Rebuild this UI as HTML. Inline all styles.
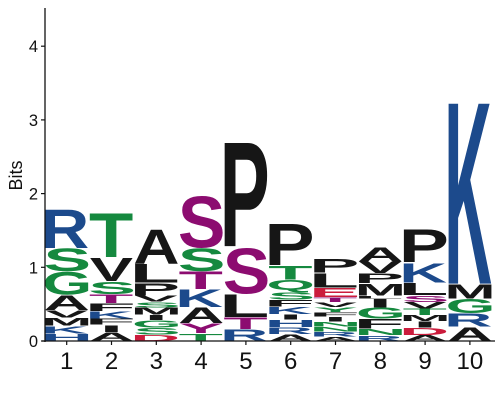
<!DOCTYPE html>
<html lang="en">
<head>
<meta charset="utf-8">
<title>Sequence logo</title>
<style>
html,body{margin:0;padding:0;background:#fff;width:500px;height:400px;overflow:hidden}
svg{display:block}
text{font-family:"Liberation Sans",sans-serif}
</style>
</head>
<body>
<svg id="chart" width="500" height="400" viewBox="0 0 500 400" xmlns="http://www.w3.org/2000/svg"></svg>
<script>
// Letters at each position, bottom to top. Lowercase = modified residue class.
const letters1 = ['H','K','M','V','A','G','S','R'];
const bits1 = [.10,.104,.109,.104,.208,.317,.317,.525];
const letters2 = ['A','I','F','K','F','t','S','V','T'];
const bits2 = [.122,.095,.086,.10,.109,.122,.18,.32,.61];
const letters3 = ['D','S','G','I','M','S','V','P','L','A'];
const bits3 = [.086,.095,.10,.072,.10,.081,.081,.172,.258,.47];
const letters4 = ['T','y','A','K','t','S','s'];
const bits4 = [.104,.136,.217,.244,.24,.317,.71];
const letters5 = ['R','t','L','s','P'];
const bits5 = [.158,.163,.31,.633,1.43];
const letters6 = ['A','R','H','I','K','F','S','Q','T','P'];
const bits6 = [.09,.095,.10,.077,.104,.09,.10,.172,.19,.57];
const letters7 = ['A','R','N','N','I','F','Y','V','t','E','L','P'];
const bits7 = [.059,.068,.068,.068,.068,.059,.068,.068,.068,.131,.20,.19];
const letters8 = ['R','N','F','G','I','L','M','P','V','A'];
const bits8 = [.077,.086,.136,.154,.12,.043,.163,.14,.158,.204];
const letters9 = ['A','D','I','M','T','V','s','L','K','P'];
const bits9 = [.081,.10,.086,.081,.09,.09,.09,.172,.27,.452];
const letters10 = ['A','R','G','M','K'];
const bits10 = [.195,.176,.204,.20,2.49];

const positions = ['1','2','3','4','5','6','7','8','9','10'];
const yTicks = [0,1,2,3,4];
const stackLetters = [letters1,letters2,letters3,letters4,letters5,letters6,letters7,letters8,letters9,letters10];
const stackBits = [bits1,bits2,bits3,bits4,bits5,bits6,bits7,bits8,bits9,bits10];

const NS = 'http://www.w3.org/2000/svg';
const svg = document.getElementById('chart');
const yScale = v => 341 - v * 73.7;
const xScale = i => 66.7 + i * 44.8;
const LETTER_W = 43.5;
const NARROW_W = 14;

const BLUE = '#1c4a8c', GREEN = '#15893f', BLACK = '#161616', MAGENTA = '#8c0c70', RED = '#cb1c3c';
function colorOf(ch) {
  if (ch === 's' || ch === 't' || ch === 'y') return MAGENTA;
  if ('RKH'.includes(ch)) return BLUE;
  if ('DE'.includes(ch)) return RED;
  if ('GSTYCQN'.includes(ch)) return GREEN;
  return BLACK;
}

const ctx = document.createElement('canvas').getContext('2d');
ctx.font = 'bold 100px "Liberation Sans", sans-serif';

function mk(tag, attrs) {
  const e = document.createElementNS(NS, tag);
  for (const k in attrs) e.setAttribute(k, attrs[k]);
  return e;
}

// Stacks
stackLetters.forEach((letters, i) => {
  const group = mk('g', {});
  
  
  let cum = 0;
  letters.forEach((raw, j) => {
    const ch = raw.toUpperCase();
    const h = stackBits[i][j];
    const bottom = yScale(cum) - 0.25;
    const top = yScale(cum + h) + 0.25;
    cum += h;
    const m = ctx.measureText(ch);
    const inkW = m.actualBoundingBoxLeft + m.actualBoundingBoxRight;
    const inkH = m.actualBoundingBoxAscent + m.actualBoundingBoxDescent;
    const w = ch === 'I' ? NARROW_W : LETTER_W;
    const sx = w / inkW;
    const sy = (bottom - top) / inkH;
    const ox = xScale(i) - w / 2 + m.actualBoundingBoxLeft * sx;
    const oy = bottom - m.actualBoundingBoxDescent * sy;
    const t = mk('text', {
      'font-size': 100,
      'font-weight': 'bold',
      fill: colorOf(raw),
      transform: 'translate(' + ox + ' ' + oy + ') scale(' + sx + ' ' + sy + ')'
    });
    
    
    t.textContent = ch;
    group.appendChild(t);
  });
  svg.appendChild(group);
});

// Y axis
const yAxis = mk('line', {x1:45, x2:45, y1:8, y2:342, stroke:'#111', 'stroke-width':1.3});


svg.appendChild(yAxis);
yTicks.forEach(v => {
  const tick = mk('line', {x1:41, x2:45, y1:yScale(v), y2:yScale(v), stroke:'#111', 'stroke-width':1.2});
  
  
  svg.appendChild(tick);
  const label = mk('text', {x:38, y:yScale(v) + 6, 'font-size':16.5, 'text-anchor':'end', fill:'#111'});
  
  
  label.textContent = String(v);
  svg.appendChild(label);
});

// X axis
const xAxis = mk('line', {x1:42, x2:495, y1:341, y2:341, stroke:'#111', 'stroke-width':1.3});


svg.appendChild(xAxis);
positions.forEach((p, i) => {
  const tick = mk('line', {x1:xScale(i), x2:xScale(i), y1:341, y2:345, stroke:'#111', 'stroke-width':1.2});
  
  
  svg.appendChild(tick);
  const label = mk('text', {x:xScale(i), y:369, 'font-size':24, 'text-anchor':'middle', fill:'#111'});
  
  
  label.textContent = p;
  svg.appendChild(label);
});

// Y axis title
const title = mk('text', {'font-size':18, 'text-anchor':'middle', fill:'#111', transform:'translate(22 175.5) rotate(-90)'});


title.textContent = 'Bits';
svg.appendChild(title);
</script>
</body>
</html>
